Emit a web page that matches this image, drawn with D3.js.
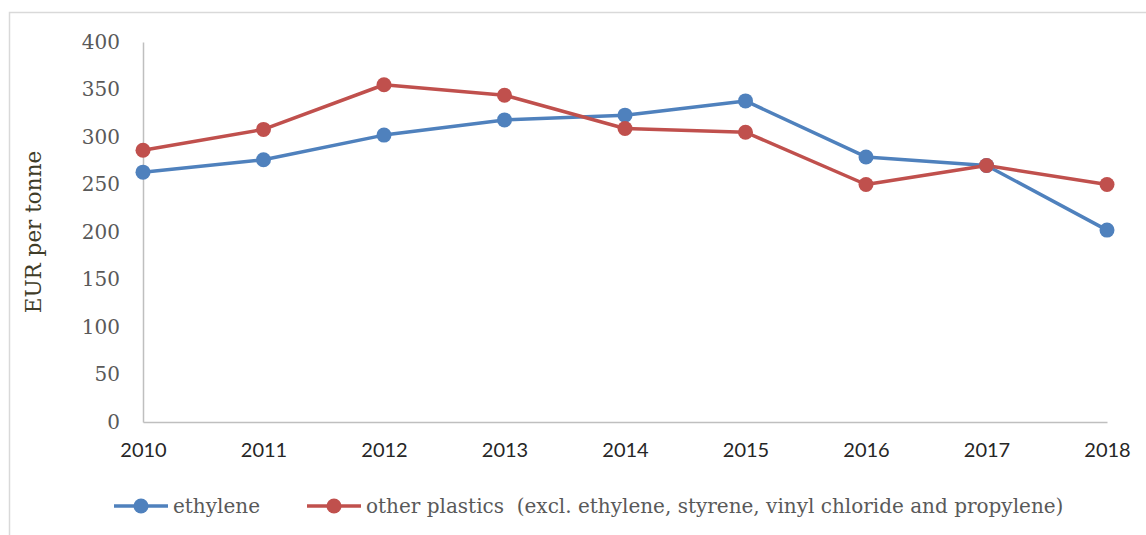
<!DOCTYPE html>
<html>
<head>
<meta charset="utf-8">
<script src="https://cdn.jsdelivr.net/npm/d3@7/dist/d3.min.js"></script>
<style>
  html, body { margin: 0; padding: 0; background: #fff; }
  svg { display: block; }
</style>
</head>
<body>
<svg id="chart" width="1146" height="535"></svg>
<script>
// Annual values, EUR per tonne
const years = ["2010", "2011", "2012", "2013", "2014", "2015", "2016", "2017", "2018"];
const ethylene = [263, 276, 302, 318, 323, 338, 279, 270, 202];
const otherPlastics = [286, 308, 355, 344, 309, 305, 250, 270, 250];
const yTicks = [0, 50, 100, 150, 200, 250, 300, 350, 400];
const seriesNames = ["ethylene", "other plastics  (excl. ethylene, styrene, vinyl chloride and propylene)"];
const seriesColors = ["#4F81BD", "#C0504D"];

const svg = d3.select("#chart");
const W = 1146, H = 535;
const plot = { left: 143, right: 1107, top: 42, bottom: 422 };

// outer chart frame
svg.append("rect")
  .attr("x", 9.5).attr("y", 12.5)
  .attr("width", W).attr("height", H)
  .attr("fill", "#fff").attr("stroke", "#D9D9D9").attr("stroke-width", 1.5);

const x = d3.scalePoint().domain(years).range([plot.left, plot.right]);
const y = d3.scaleLinear().domain([0, 400]).range([plot.bottom, plot.top]);

// y axis
const yAxis = svg.append("g")
  .attr("transform", `translate(${plot.left},0)`)
  .call(d3.axisLeft(y).tickValues(yTicks).tickSize(0).tickPadding(23));
yAxis.select(".domain").attr("stroke", "#BFBFBF").attr("stroke-width", 1.5);
yAxis.selectAll("text")
  .attr("font-family", "'DejaVu Serif', serif")
  .attr("font-size", 20)
  .attr("fill", "#595959");

// x axis
const xAxis = svg.append("g")
  .attr("transform", `translate(0,${plot.bottom})`)
  .call(d3.axisBottom(x).tickSize(0).tickPadding(21));
xAxis.select(".domain").attr("stroke", "#BFBFBF").attr("stroke-width", 1.5);
xAxis.selectAll("text")
  .attr("font-family", "Lato, 'Liberation Sans', sans-serif")
  .attr("font-size", 20)
  .attr("fill", "#262626");

// y axis title
svg.append("text")
  .attr("transform", `translate(41,${(plot.top + plot.bottom) / 2}) rotate(-90)`)
  .attr("text-anchor", "middle")
  .attr("font-family", "'DejaVu Serif', serif")
  .attr("font-size", 21.5)
  .attr("fill", "#3F3C28")
  .text("EUR per tonne");

// series lines and markers
const series = [ethylene, otherPlastics];
const line = d3.line().x((d, i) => x(years[i])).y(d => y(d));

series.forEach((vals, si) => {
  svg.append("path")
    .datum(vals)
    .attr("d", line)
    .attr("fill", "none")
    .attr("stroke", seriesColors[si])
    .attr("stroke-width", 3.5)
    .attr("stroke-linejoin", "round");
});
series.forEach((vals, si) => {
  svg.append("g").selectAll("circle")
    .data(vals)
    .join("circle")
    .attr("cx", (d, i) => x(years[i]))
    .attr("cy", d => y(d))
    .attr("r", 7.5)
    .attr("fill", seriesColors[si]);
});

// legend
const legendY = 506;
const legendItems = [
  { x: 114, name: seriesNames[0], color: seriesColors[0] },
  { x: 307, name: seriesNames[1], color: seriesColors[1] }
];
legendItems.forEach(item => {
  const g = svg.append("g").attr("transform", `translate(${item.x},${legendY})`);
  g.append("line").attr("x1", 0).attr("x2", 54).attr("y1", 0).attr("y2", 0)
    .attr("stroke", item.color).attr("stroke-width", 3.5);
  g.append("circle").attr("cx", 27).attr("cy", 0).attr("r", 7.5).attr("fill", item.color);
  g.append("text").attr("x", 59).attr("y", 7)
    .attr("font-family", "'DejaVu Serif', serif")
    .attr("font-size", 20)
    .attr("fill", "#595959")
    .attr("xml:space", "preserve")
    .style("white-space", "pre")
    .text(item.name);
});
</script>
</body>
</html>
